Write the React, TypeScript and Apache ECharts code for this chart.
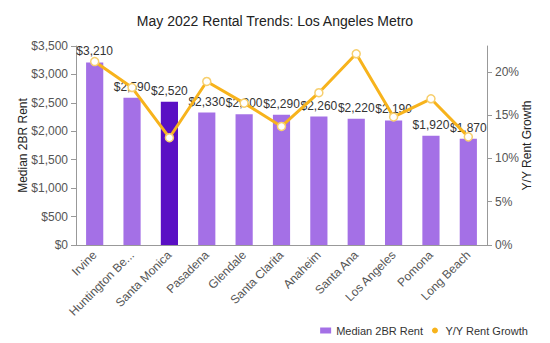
import React, { useEffect, useRef } from "react";
import * as echarts from "echarts";

const categories = ["Irvine", "Huntington Beach", "Santa Monica", "Pasadena", "Glendale", "Santa Clarita", "Anaheim", "Santa Ana", "Los Angeles", "Pomona", "Long Beach"];
const rentValues = [3210, 2590, 2520, 2330, 2300, 2290, 2260, 2220, 2190, 1920, 1870];
const growthValues = [21.2, 18.2, 12.4, 18.9, 16.4, 13.7, 17.6, 22.1, 14.8, 16.9, 12.5];
const highlightCategory = "Santa Monica";

export default function App() {
  const ref = useRef<HTMLDivElement>(null);
  useEffect(() => {
    document.body.style.margin = "0";
    const chart = echarts.init(ref.current!, null, { renderer: "svg" });
    const font = "Liberation Sans, Arial, sans-serif";
    chart.setOption({
      animation: false,
      textStyle: { fontFamily: font },
      title: {
        text: "May 2022 Rental Trends: Los Angeles Metro",
        left: "center",
        top: 9,
        textStyle: { fontSize: 14, fontWeight: "normal", color: "#222", fontFamily: font },
      },
      legend: {
        right: 17,
        top: 320,
        itemWidth: 11,
        itemHeight: 6,
        itemGap: 9,
        textStyle: { fontSize: 11, color: "#333" },
        data: [
          { name: "Median 2BR Rent", icon: "rect", itemStyle: { color: "#a470e6" } },
          { name: "Y/Y Rent Growth", icon: "circle", itemStyle: { color: "#f7b31c", borderWidth: 0 } },
        ],
      },
      grid: { left: 76, right: 63, top: 46, bottom: 98 },
      xAxis: {
        type: "category",
        data: categories,
        axisLine: { lineStyle: { color: "#999" } },
        axisTick: { alignWithLabel: true, lineStyle: { color: "#999" } },
        axisLabel: {
          rotate: 45,
          interval: 0,
          fontSize: 12,
          color: "#555",
          formatter: (v: string) => (v.length > 14 ? v.slice(0, 13) + "..." : v),
        },
      },
      yAxis: [
        {
          type: "value",
          name: "Median 2BR Rent",
          nameLocation: "middle",
          nameGap: 47,
          nameMoveOverlap: false,
          nameTextStyle: { fontSize: 12, color: "#222" },
          min: 0,
          max: 3500,
          interval: 500,
          splitLine: { show: false },
          axisLine: { show: true, lineStyle: { color: "#999" } },
          axisTick: { show: true, lineStyle: { color: "#999" } },
          axisLabel: {
            fontSize: 12,
            color: "#555",
            formatter: (v: number) => "$" + v.toLocaleString("en-US"),
          },
        },
        {
          type: "value",
          name: "Y/Y Rent Growth",
          nameLocation: "middle",
          nameGap: 34,
          nameMoveOverlap: false,
          nameTextStyle: { fontSize: 12, color: "#222" },
          min: 0,
          max: 23,
          interval: 5,
          splitLine: { show: false },
          axisLine: { show: true, lineStyle: { color: "#999" } },
          axisTick: { show: true, lineStyle: { color: "#999" } },
          axisLabel: { fontSize: 12, color: "#555", showMaxLabel: false, formatter: (v: number) => v + "%" },
        },
      ],
      series: [
        {
          name: "Median 2BR Rent",
          type: "bar",
          barWidth: "46%",
          data: rentValues.map((v, i) => ({
            value: v,
            itemStyle: { color: categories[i] === highlightCategory ? "#5a0fc4" : "#a470e6" },
          })),
          label: {
            show: true,
            position: "top",
            fontSize: 12,
            color: "#333",
            formatter: (p: any) => "$" + Number(p.value).toLocaleString("en-US"),
          },
          z: 1,
        },
        {
          name: "Y/Y Rent Growth",
          type: "line",
          yAxisIndex: 1,
          data: growthValues,
          symbol: "circle",
          symbolSize: 8,
          lineStyle: { color: "#f7b31c", width: 3 },
          itemStyle: { color: "#fff", borderColor: "#f7cf6e", borderWidth: 1.5 },
          z: 3,
        },
      ],
    });
    return () => chart.dispose();
  }, []);
  return <div ref={ref} style={{ width: 550, height: 343 }} />;
}
